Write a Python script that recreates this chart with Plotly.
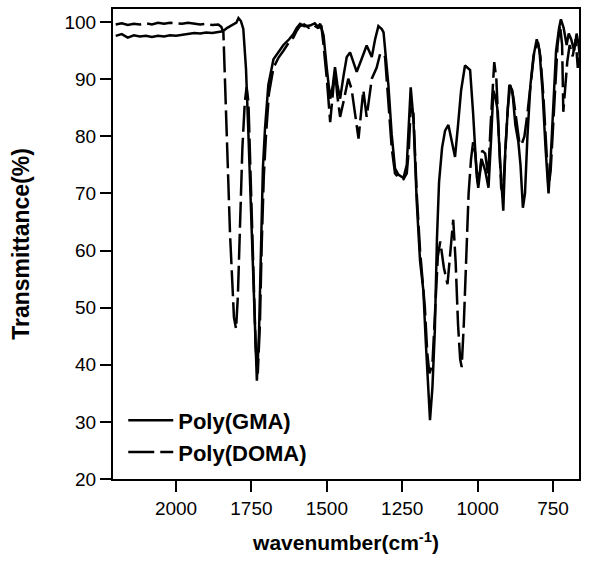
import plotly.graph_objects as go

# Poly(GMA) - solid
gma_wn = [2200, 2180, 2160, 2140, 2120, 2100, 2080, 2060, 2040, 2020, 2000, 1980, 1960, 1940, 1920,
          1900, 1880, 1860, 1845, 1830, 1815, 1800, 1793, 1785, 1777, 1768, 1760, 1749, 1740, 1732,
          1725, 1719, 1712, 1705, 1694, 1677, 1660, 1644, 1625, 1611, 1600, 1589, 1575, 1556, 1540,
          1530, 1522, 1511, 1500, 1489, 1480, 1473, 1465, 1456, 1445, 1434, 1423, 1412, 1401, 1385,
          1368, 1351, 1340, 1329, 1318, 1312, 1296, 1285, 1274, 1263, 1246, 1235, 1228, 1222, 1213,
          1202, 1191, 1185, 1180, 1172, 1165, 1158, 1150, 1142, 1135, 1128, 1118, 1108, 1097, 1085,
          1075, 1065, 1055, 1042, 1025, 1015, 1008, 1003, 998, 987, 975, 964, 955, 948, 942,
          935, 925, 915, 908, 900, 895, 885, 875, 865, 858, 850, 843, 835, 825, 815,
          804, 795, 785, 775, 765, 758, 750, 740, 730, 724, 715, 705, 698, 690, 680,
          672, 665, 660]
gma_t = [97.6, 97.9, 97.3, 97.7, 97.5, 97.6, 97.4, 97.6, 97.5, 97.7, 97.6, 97.8, 97.9, 98.1, 98.0,
         98.2, 98.1, 98.3, 98.4, 99.0, 99.4, 99.9, 100.7, 100.2, 98.8, 91.8, 80.3, 62.9, 48.3, 37.2,
         45.4, 59.9, 74.4, 81.4, 89.0, 93.5, 94.8, 96.0, 97.0, 97.9, 99.0, 99.7, 99.3, 99.4, 99.8,
         99.2, 99.7, 97.7, 91.8, 86.6, 89.0, 92.1, 89.0, 86.6, 90.5, 93.9, 94.7, 93.0, 91.3, 93.5,
         95.9, 93.9, 97.0, 99.3, 98.8, 98.2, 89.0, 80.3, 74.4, 73.3, 72.7, 75.0, 82.0, 88.6, 83.1,
         68.6, 58.2, 55.2, 53.0, 44.0, 36.0, 30.3, 36.0, 46.0, 62.0, 72.0, 78.0, 81.0, 82.0, 79.0,
         76.4, 82.0, 88.0, 92.4, 91.6, 84.0, 76.0, 73.0, 71.0, 76.0, 74.0, 71.0, 80.0, 88.0, 87.0,
         85.0, 75.0, 67.0, 78.0, 86.0, 89.0, 88.0, 82.0, 79.0, 75.0, 67.5, 70.0, 80.0, 89.0, 94.0,
         97.0, 95.0, 88.0, 78.0, 70.0, 76.0, 85.0, 95.0, 99.0, 100.5, 99.0, 96.0, 98.0, 97.0, 95.0,
         98.0, 96.0, 93.0]

# Poly(DOMA) - dashed
doma_wn = [2200, 2180, 2160, 2140, 2120, 2100, 2080, 2060, 2040, 2020, 2000, 1980, 1960, 1940, 1920,
           1900, 1880, 1860, 1850, 1843, 1832, 1821, 1808, 1801, 1795, 1788, 1780, 1772, 1766, 1760,
           1752, 1744, 1736, 1729, 1722, 1716, 1709, 1702, 1692, 1677, 1660, 1644, 1625, 1611, 1600,
           1589, 1575, 1560, 1545, 1530, 1518, 1511, 1500, 1489, 1480, 1473, 1465, 1456, 1445, 1429,
           1418, 1405, 1395, 1385, 1379, 1368, 1358, 1351, 1335, 1323, 1315, 1307, 1296, 1285, 1274,
           1263, 1246, 1235, 1228, 1222, 1213, 1202, 1191, 1185, 1175, 1167, 1160, 1150, 1140, 1132,
           1124, 1112, 1100, 1090, 1081, 1073, 1065, 1058, 1053, 1046, 1038, 1030, 1022, 1015, 1008,
           1000, 992, 985, 975, 965, 957, 950, 945, 938, 930, 922, 916, 910, 900, 892,
           882, 872, 862, 855, 845, 835, 825, 812, 800, 792, 782, 772, 765, 758, 750,
           742, 735, 727, 720, 716, 710, 703, 695, 685, 675, 668, 662]
doma_t = [99.6, 99.8, 99.5, 99.7, 99.6, 99.8, 99.6, 99.9, 99.7, 99.9, 99.8, 99.7, 99.9, 99.8, 99.6,
          99.7, 99.5, 99.6, 99.2, 98.2, 80.3, 62.9, 48.3, 46.3, 52.0, 65.0, 78.0, 86.0, 88.6, 86.0,
          72.0, 55.0, 43.0, 38.5, 47.0, 61.0, 73.0, 80.0, 87.5, 92.0, 93.8, 95.0, 96.5, 97.3, 98.5,
          99.3, 99.6, 99.0, 99.5, 99.0, 99.2, 96.0, 90.0, 82.5, 88.0, 91.5, 87.0, 83.4, 86.0, 90.1,
          88.3, 83.0, 79.6, 85.0, 88.1, 83.4, 87.0, 90.1, 92.0, 94.5, 94.5, 93.9, 86.0, 78.0, 73.5,
          72.8, 72.5, 73.5, 78.0, 85.0, 84.0, 70.0, 60.0, 56.0, 50.0, 42.0, 38.5, 40.0, 50.0, 59.0,
          61.6, 57.0, 54.1, 60.0, 65.4, 58.0, 47.0, 41.0, 39.6, 47.0, 60.0, 70.0, 76.0, 79.0, 77.0,
          72.0, 74.0, 77.5, 77.0, 73.0, 82.0, 90.0, 93.0, 90.0, 80.0, 71.0, 70.0, 76.0, 85.0, 89.0,
          87.0, 83.0, 79.0, 78.5, 80.0, 84.0, 89.0, 95.0, 96.5, 94.0, 87.0, 77.0, 71.0, 74.0, 82.0,
          90.0, 96.0, 99.5, 96.0, 84.3, 88.0, 93.0, 96.0, 94.0, 97.0, 92.0, 95.0]

x_ticks = [2000, 1750, 1500, 1250, 1000, 750]
y_ticks = [20, 30, 40, 50, 60, 70, 80, 90, 100]

FONT = "Liberation Sans, Arial, Helvetica, sans-serif"

fig = go.Figure()
fig.add_trace(go.Scatter(x=gma_wn, y=gma_t, mode="lines", name="Poly(GMA)",
                         line=dict(color="black", width=2.5, dash="solid")))
fig.add_trace(go.Scatter(x=doma_wn, y=doma_t, mode="lines", name="Poly(DOMA)",
                         line=dict(color="black", width=2.5, dash="26px,6px")))

fig.update_layout(
    width=589, height=572,
    margin=dict(l=113, r=10, t=7, b=93),
    paper_bgcolor="white", plot_bgcolor="white",
    font=dict(family=FONT, color="black"),
    showlegend=True,
    legend=dict(x=0.022, y=0.169, xanchor="left", yanchor="top",
                bgcolor="rgba(0,0,0,0)", borderwidth=0,
                font=dict(family=FONT, size=22, color="black", weight="bold"),
                itemwidth=45, tracegroupgap=3),
    xaxis=dict(range=[2209, 664], tickvals=x_ticks, ticktext=[str(v) for v in x_ticks],
               showline=True, linecolor="black", linewidth=2, mirror=True,
               ticks="outside", ticklen=11, tickwidth=1.5, tickcolor="black",
               showgrid=False, zeroline=False,
               tickfont=dict(family=FONT, size=19, color="black"),
               title=dict(text="<b>wavenumber(cm<sup>-1</sup>)</b>", standoff=18,
                          font=dict(family=FONT, size=21, color="black"))),
    yaxis=dict(range=[20, 102.3], tickvals=y_ticks, ticktext=[str(v) for v in y_ticks],
               showline=True, linecolor="black", linewidth=2, mirror=True,
               ticks="outside", ticklen=11, tickwidth=1.5, tickcolor="black",
               showgrid=False, zeroline=False,
               tickfont=dict(family=FONT, size=19, color="black"),
               title=dict(text="<b>Transmittance(%)</b>", standoff=28,
                          font=dict(family=FONT, size=23, color="black"))),
)

fig.write_html("out.html")
